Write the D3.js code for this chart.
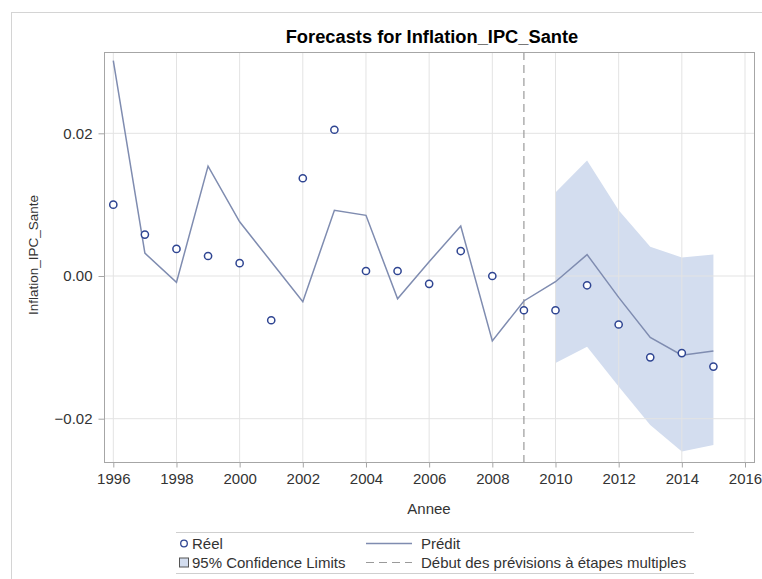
<!DOCTYPE html>
<html>
<head>
<meta charset="utf-8">
<script src="https://cdn.jsdelivr.net/npm/d3@7"></script>
<style>
  html, body { margin: 0; padding: 0; background: #fff; }
  svg { display: block; font-family: Arial, "Liberation Sans", sans-serif; }
</style>
</head>
<body>
<svg id="chart" width="762" height="579"></svg>
<script>
// ---- data ----
const years = [1996, 1997, 1998, 1999, 2000, 2001, 2002, 2003, 2004, 2005,
               2006, 2007, 2008, 2009, 2010, 2011, 2012, 2013, 2014, 2015];
const actual = [0.0100, 0.0058, 0.0038, 0.0028, 0.0018, -0.0062, 0.0137, 0.0205, 0.0007, 0.0007,
                -0.0011, 0.0035, 0.0000, -0.0048, -0.0048, -0.0013, -0.0068, -0.0114, -0.0108, -0.0127];
const predicted = [0.0302, 0.0032, -0.0009, 0.0154, 0.0076, 0.0020, -0.0036, 0.0092, 0.0085, -0.0032,
                   0.0020, 0.0070, -0.0091, -0.0035, -0.0008, 0.0030, -0.0030, -0.0086, -0.0111, -0.0105];
const bandYears = [2010, 2011, 2012, 2013, 2014, 2015];
const upper = [0.0117, 0.0162, 0.0092, 0.0041, 0.0026, 0.0030];
const lower = [-0.0122, -0.0099, -0.0155, -0.0209, -0.0246, -0.0237];
const forecastStart = 2009;
const xTicks = [1996, 1998, 2000, 2002, 2004, 2006, 2008, 2010, 2012, 2014, 2016];
const yTicks = [-0.02, 0.00, 0.02];
const title = "Forecasts for Inflation_IPC_Sante";
const xLabel = "Annee";
const yLabel = "Inflation_IPC_Sante";
const legendLabels = ["Réel", "Prédit", "95% Confidence Limits", "Début des prévisions à étapes multiples"];

// ---- layout ----
const svg = d3.select("#chart");
const plot = { left: 104, right: 754, top: 52, bottom: 462 };
const x = d3.scaleLinear().domain([1996, 2016]).range([113.3, 745]);
const y = d3.scaleLinear().domain([-0.02, 0.02]).range([418.7, 133.3]);

const txt = "#333333";
const fs = 15;

// outer frame
svg.append("rect").attr("x", 11.5).attr("y", 12.5).attr("width", 800).attr("height", 600)
  .attr("fill", "none").attr("stroke", "#d4d4d4");

// title
svg.append("text").attr("x", 432).attr("y", 43).attr("text-anchor", "middle")
  .attr("font-size", 18.3).attr("font-weight", "bold").attr("fill", "#000").text(title);

// clip
svg.append("clipPath").attr("id", "clip").append("rect")
  .attr("x", plot.left).attr("y", plot.top)
  .attr("width", plot.right - plot.left).attr("height", plot.bottom - plot.top);

const g = svg.append("g").attr("clip-path", "url(#clip)");

// confidence band
const bandData = bandYears.map((yr, i) => ({ yr, lo: lower[i], hi: upper[i] }));
g.append("path").datum(bandData)
  .attr("d", d3.area().x(d => x(d.yr)).y0(d => y(d.lo)).y1(d => y(d.hi)))
  .attr("fill", "#d3ddef");

// grid
g.selectAll(".vgrid").data(xTicks).join("line")
  .attr("x1", d => x(d)).attr("x2", d => x(d))
  .attr("y1", plot.top).attr("y2", plot.bottom)
  .attr("stroke", "#e3e3e3").attr("stroke-width", 1);
g.selectAll(".hgrid").data(yTicks).join("line")
  .attr("y1", d => y(d)).attr("y2", d => y(d))
  .attr("x1", plot.left).attr("x2", plot.right)
  .attr("stroke", "#e3e3e3").attr("stroke-width", 1);

// forecast start reference line
g.append("line")
  .attr("x1", x(forecastStart)).attr("x2", x(forecastStart))
  .attr("y1", plot.top).attr("y2", plot.bottom)
  .attr("stroke", "#9a9a9a").attr("stroke-width", 1.2).attr("stroke-dasharray", "8,5");

// predicted line
g.append("path").datum(years.map((yr, i) => [yr, predicted[i]]))
  .attr("d", d3.line().x(d => x(d[0])).y(d => y(d[1])))
  .attr("fill", "none").attr("stroke", "#7f8cb0").attr("stroke-width", 1.5);

// actual markers
g.selectAll(".pt").data(years.map((yr, i) => [yr, actual[i]])).join("circle")
  .attr("cx", d => x(d[0])).attr("cy", d => y(d[1])).attr("r", 3.6)
  .attr("fill", "#fff").attr("stroke", "#2f4592").attr("stroke-width", 1.5);

// plot frame
svg.append("rect").attr("x", plot.left + 0.5).attr("y", plot.top + 0.5)
  .attr("width", plot.right - plot.left).attr("height", plot.bottom - plot.top)
  .attr("fill", "none").attr("stroke", "#a6a6a6");

// x axis
const xAxis = d3.axisBottom(x).tickValues(xTicks).tickFormat(d3.format("d")).tickSize(5).tickPadding(6);
const xg = svg.append("g").attr("transform", `translate(0,${plot.bottom + 0.5})`).call(xAxis);
xg.select(".domain").remove();
xg.selectAll(".tick line").attr("stroke", "#a6a6a6");
xg.selectAll(".tick text").attr("font-size", fs).attr("fill", txt).attr("font-family", "Arial, 'Liberation Sans', sans-serif");

// y axis
const yAxis = d3.axisLeft(y).tickValues(yTicks).tickFormat(d3.format(".2f")).tickSize(6).tickPadding(6);
const yg = svg.append("g").attr("transform", `translate(${plot.left + 0.5},0)`).call(yAxis);
yg.select(".domain").remove();
yg.selectAll(".tick line").attr("stroke", "#a6a6a6");
yg.selectAll(".tick text").attr("font-size", fs).attr("fill", txt).attr("font-family", "Arial, 'Liberation Sans', sans-serif");

// axis labels
svg.append("text").attr("x", 429).attr("y", 514).attr("text-anchor", "middle")
  .attr("font-size", fs).attr("fill", txt).text(xLabel);
svg.append("text").attr("transform", "translate(38,255) rotate(-90)").attr("text-anchor", "middle")
  .attr("font-size", 13.5).attr("fill", txt).text(yLabel);

// legend
const lg = svg.append("g");
const lgLeft = 176, lgRight = 694, lgTop = 532.5, lgBottom = 573.5;
lg.append("line").attr("x1", lgLeft).attr("x2", lgRight).attr("y1", lgTop).attr("y2", lgTop).attr("stroke", "#cfcfcf");
lg.append("line").attr("x1", lgLeft).attr("x2", lgRight).attr("y1", lgBottom).attr("y2", lgBottom).attr("stroke", "#cfcfcf");
const r1 = 543.5, r2 = 562.5;
lg.append("circle").attr("cx", 184).attr("cy", r1).attr("r", 3.3)
  .attr("fill", "#fff").attr("stroke", "#2f4592").attr("stroke-width", 1.3);
lg.append("rect").attr("x", 179.5).attr("y", r2 - 4.5).attr("width", 9).attr("height", 9)
  .attr("fill", "#d3ddef").attr("stroke", "#555").attr("stroke-width", 1);
lg.append("text").attr("x", 192).attr("y", r1 + 5).attr("font-size", fs).attr("fill", txt).text(legendLabels[0]);
lg.append("text").attr("x", 192).attr("y", r2 + 5).attr("font-size", fs).attr("fill", txt).text(legendLabels[2]);
lg.append("line").attr("x1", 366).attr("x2", 412).attr("y1", r1).attr("y2", r1)
  .attr("stroke", "#7f8cb0").attr("stroke-width", 1.5);
lg.append("line").attr("x1", 366).attr("x2", 412).attr("y1", r2).attr("y2", r2)
  .attr("stroke", "#9a9a9a").attr("stroke-width", 1.2).attr("stroke-dasharray", "8,5");
lg.append("text").attr("x", 421).attr("y", r1 + 5).attr("font-size", fs).attr("fill", txt).text(legendLabels[1]);
lg.append("text").attr("x", 421).attr("y", r2 + 5).attr("font-size", fs).attr("fill", txt).text(legendLabels[3]);
</script>
</body>
</html>
